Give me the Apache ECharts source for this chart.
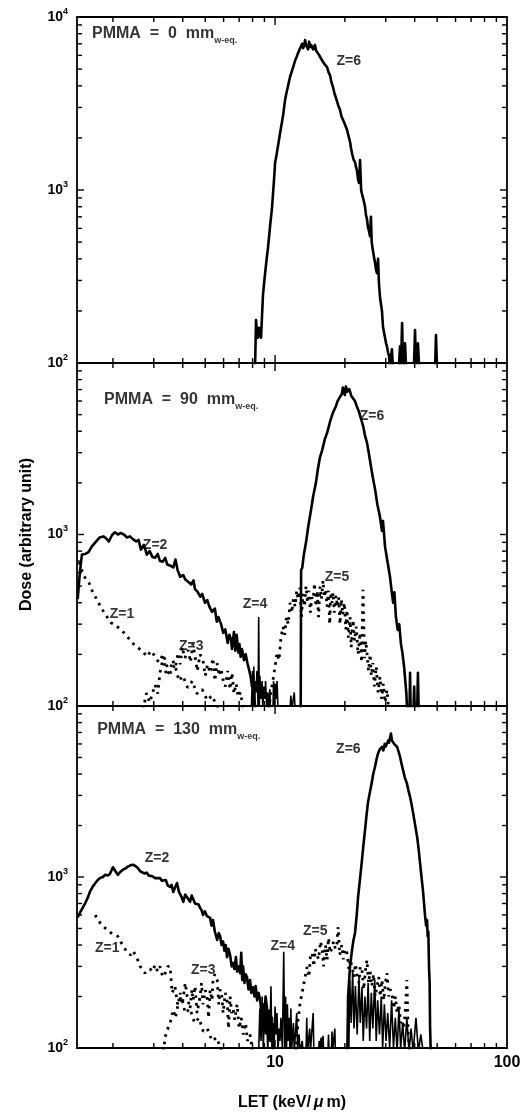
<!DOCTYPE html>
<html><head><meta charset="utf-8">
<script src="https://cdn.jsdelivr.net/npm/echarts@6/dist/echarts.min.js"></script>
<style>html,body{margin:0;padding:0;background:#fff}#c{width:529px;height:1113px}</style>
</head><body><div id="c"></div>
<script>
// ---------------- DATA ----------------
// LET (keV/um) , Dose (arbitrary unit)
const p0_Z6 = [[8.2,95],[8.28,177],[8.36,150],[8.44,140],[8.53,160],[8.62,150],[8.7,140],[8.79,138],[8.87,247],[8.97,290],[9.06,330],[9.2,400],[9.33,468],[9.52,620],[9.71,800],[9.9,1150],[10.0,1430],[10.15,1600],[10.3,1800],[10.51,2130],[10.67,2400],[10.83,2700],[11.04,3300],[11.2,3650],[11.38,4000],[11.6,4500],[11.78,4800],[11.95,5100],[12.2,5600],[12.4,5900],[12.57,6200],[12.82,6600],[13.08,7000],[13.2,6600],[13.34,6800],[13.47,7350],[13.6,6900],[13.74,6900],[13.88,6500],[14.02,7200],[14.16,6700],[14.3,6900],[14.44,7000],[14.59,6500],[14.73,6600],[14.87,6900],[15.02,6400],[15.17,6300],[15.4,6100],[15.63,6000],[15.85,5700],[16.1,5600],[16.4,5300],[16.76,5130],[17.0,4800],[17.26,4600],[17.5,4200],[17.78,3930],[18.05,3600],[18.32,3400],[18.7,3100],[19.06,2900],[19.35,2650],[19.63,2550],[20.0,2400],[20.43,2230],[20.75,2050],[21.05,1900],[21.25,1750],[21.47,1630],[21.8,1500],[22.12,1450],[22.35,1350],[22.55,1300],[22.8,1150],[23.0,1100],[23.25,1490],[23.5,1000],[23.7,950],[23.95,900],[24.2,850],[24.43,800],[24.65,720],[24.9,680],[25.15,610],[25.4,580],[25.67,540],[25.9,700],[26.1,500],[26.4,450],[26.7,410],[26.98,380],[27.2,350],[27.5,330],[27.8,400],[28.05,290],[28.35,240],[28.6,220],[28.9,200],[29.2,162],[29.5,150],[29.8,140],[30.1,130],[30.4,124],[30.7,115],[31.0,110],[31.31,95],[31.6,95],[31.9,120],[32.2,95],[34.2,95],[34.58,125],[34.9,95],[35.3,170],[35.6,95],[36.0,95],[36.34,130],[36.7,95],[39.7,95],[40.13,155],[40.5,95],[41.0,95],[41.3,130],[41.8,95],[49.0,95],[49.4,145],[49.9,95]];

const p90_Z6 = [[12.9,95],[12.95,620],[13.1,640],[13.3,760],[13.6,900],[13.9,1110],[14.3,1400],[14.6,1670],[15.0,2000],[15.3,2400],[15.6,2800],[16.0,3140],[16.4,3600],[16.8,3950],[17.3,4600],[17.8,5170],[18.3,5600],[18.6,5990],[19.0,6300],[19.4,6590],[19.6,7200],[19.8,6700],[20.0,6500],[20.2,7300],[20.5,6800],[20.9,7050],[21.3,6450],[21.7,6600],[22.1,6000],[22.5,5600],[23.0,5200],[23.5,4700],[24.0,4270],[24.4,3800],[24.9,3440],[25.4,2950],[25.9,2500],[26.4,2150],[27.0,1830],[27.6,1500],[28.3,1280],[28.9,1050],[29.2,1200],[29.8,850],[30.5,700],[31.3,567],[31.8,470],[32.3,400],[32.7,460],[33.2,330],[33.8,278],[34.3,300],[34.9,230],[35.4,205],[36.0,170],[36.4,142],[36.8,120],[37.1,95],[38.0,95],[38.2,156],[38.4,95],[39.5,95],[39.8,130],[40.0,95],[41.0,95],[41.3,156],[41.6,95]];

const p90_Z2 = [[1.41,420],[1.44,600],[1.47,764],[1.52,770],[1.57,790],[1.62,850],[1.68,900],[1.75,960],[1.82,975],[1.87,950],[1.92,910],[1.98,990],[2.04,1030],[2.10,1000],[2.16,1020],[2.23,1000],[2.30,960],[2.37,975],[2.44,940],[2.52,910],[2.58,930],[2.64,816],[2.72,870],[2.80,764],[2.88,800],[2.96,740],[3.04,733],[3.12,770],[3.19,700],[3.28,695],[3.36,730],[3.43,668],[3.52,660],[3.64,642],[3.72,714],[3.80,620],[3.90,567],[4.02,580],[4.10,546],[4.22,530],[4.35,511],[4.45,540],[4.52,480],[4.63,464],[4.76,434],[4.85,450],[4.99,400],[5.10,415],[5.21,380],[5.35,354],[5.50,370],[5.61,310],[5.70,330],[5.85,300],[5.98,267],[6.10,280],[6.25,233],[6.35,260],[6.46,245],[6.52,215],[6.65,270],[6.74,210],[6.83,260],[6.95,205],[7.02,230],[7.10,194],[7.20,215],[7.35,185],[7.47,200],[7.60,178],[7.75,160],[7.85,148],[7.95,130],[8.05,150],[8.15,110],[8.22,95]];

const p90_Z4 = [[7.9,95],[8.0,160],[8.05,100],[8.1,170],[8.15,95],[8.2,140],[8.3,120],[8.35,160],[8.45,100],[8.5,330],[8.55,100],[8.6,150],[8.7,110],[8.8,140],[8.85,95],[8.95,130],[9.05,110],[9.1,140],[9.2,100],[9.3,120],[9.35,95],[9.5,125],[9.55,95],[9.8,95],[9.85,140],[9.9,95],[10.0,135],[10.1,110],[10.2,140],[10.3,95],[11.6,95],[11.7,115],[11.8,95],[12.0,95],[12.1,120],[12.2,95]];

const p90_Z1 = [[1.43,690],[1.48,600],[1.53,546],[1.58,520],[1.62,476],[1.70,420],[1.78,374],[1.86,340],[1.96,306],[2.05,297],[2.15,280],[2.28,260],[2.40,236],[2.55,220],[2.70,207],[2.80,194],[2.92,210],[3.04,194],[3.15,180],[3.30,200],[3.45,165],[3.56,156],[3.70,175],[3.85,140],[4.00,150],[4.20,128],[4.40,140],[4.60,118],[4.85,125],[5.10,108],[5.35,115],[5.60,100],[5.80,95]];

const p90_Z3 = [[2.70,95],[2.79,119],[2.88,105],[3.04,133],[3.12,118],[3.19,156],[3.30,194],[3.40,150],[3.53,162],[3.62,185],[3.72,170],[3.82,204],[3.90,175],[3.98,221],[4.08,190],[4.22,212],[4.32,180],[4.42,230],[4.52,194],[4.62,160],[4.75,200],[4.89,186],[5.00,150],[5.12,175],[5.25,156],[5.40,190],[5.50,140],[5.62,178],[5.75,150],[5.85,165],[5.97,142],[6.10,130],[6.25,160],[6.40,125],[6.52,156],[6.65,118],[6.80,135],[6.93,113],[7.10,120],[7.25,100],[7.40,95]];

const p90_Z5 = [[9.4,95],[9.6,120],[9.8,142],[10.0,170],[10.2,204],[10.4,185],[10.6,250],[10.83,290],[11.0,260],[11.2,330],[11.4,300],[11.6,400],[11.8,350],[12.0,420],[12.2,380],[12.4,470],[12.57,420],[12.8,490],[13.0,330],[13.2,450],[13.4,380],[13.6,500],[13.8,400],[14.0,470],[14.2,350],[14.4,430],[14.6,417],[14.8,520],[15.0,380],[15.2,470],[15.4,330],[15.63,497],[15.85,420],[16.1,540],[16.3,430],[16.5,480],[16.76,380],[17.0,470],[17.2,300],[17.4,460],[17.6,400],[17.78,458],[18.0,350],[18.3,440],[18.6,380],[18.8,430],[19.06,300],[19.3,420],[19.6,340],[19.9,400],[20.2,280],[20.43,364],[20.7,250],[21.05,330],[21.3,220],[21.7,318],[22.0,240],[22.4,290],[22.8,200],[23.25,267],[23.6,180],[23.95,476],[24.3,190],[24.6,240],[24.9,204],[25.3,160],[25.7,200],[26.0,150],[26.4,178],[26.8,130],[27.3,170],[27.8,120],[28.35,148],[28.8,110],[29.3,135],[29.8,105],[30.4,124],[30.9,95]];

const p130_Z6 = [[20.5,95],[20.65,200],[21.05,300],[21.47,374],[21.8,430],[22.12,471],[22.5,600],[22.8,764],[23.2,950],[23.7,1260],[24.0,1500],[24.43,1880],[24.8,2300],[25.15,2720],[25.6,3100],[26.1,3540],[26.5,4000],[26.98,4410],[27.4,4900],[27.8,5280],[28.3,5600],[28.9,5760],[29.3,5500],[29.7,6000],[30.0,5800],[30.4,6070],[30.8,6300],[31.0,6100],[31.3,6500],[31.6,6900],[31.9,6300],[32.2,6400],[32.6,6000],[33.0,6100],[33.6,5760],[34.1,5400],[34.58,5050],[35.1,4600],[35.6,4240],[36.3,3800],[37.0,3540],[37.6,3200],[38.2,2940],[38.8,2650],[39.4,2360],[40.2,2000],[41.0,1710],[41.6,1450],[42.2,1200],[42.8,1000],[43.4,838],[43.9,700],[44.3,600],[44.8,520],[45.2,560],[45.5,450],[45.8,480],[46.1,300],[46.4,240],[46.6,133],[46.9,95]];

const p130_Z2 = [[1.41,580],[1.44,616],[1.48,660],[1.52,704],[1.56,760],[1.59,817],[1.63,870],[1.68,922],[1.72,960],[1.76,987],[1.81,1000],[1.85,1030],[1.90,1020],[1.94,1040],[2.0,1140],[2.05,1080],[2.1,1030],[2.15,1070],[2.2,1100],[2.26,1120],[2.32,1150],[2.38,1170],[2.44,1180],[2.50,1160],[2.56,1130],[2.62,1080],[2.67,1060],[2.73,1050],[2.8,1060],[2.85,1020],[2.89,1000],[2.96,1010],[3.04,985],[3.1,990],[3.19,987],[3.25,950],[3.3,935],[3.38,960],[3.45,890],[3.53,875],[3.58,900],[3.64,817],[3.72,880],[3.78,922],[3.85,820],[3.9,800],[3.96,760],[4.02,715],[4.1,790],[4.18,760],[4.25,740],[4.3,715],[4.37,780],[4.43,764],[4.52,700],[4.61,715],[4.68,690],[4.75,660],[4.82,640],[4.89,600],[4.98,630],[5.09,590],[5.17,600],[5.25,576],[5.32,520],[5.4,560],[5.5,480],[5.63,428],[5.72,470],[5.8,450],[5.88,400],[5.97,420],[6.05,370],[6.13,400],[6.21,340],[6.3,380],[6.4,350],[6.5,300],[6.59,314],[6.68,290],[6.78,340],[6.86,280],[6.95,300],[7.07,274],[7.15,360],[7.22,250],[7.28,300],[7.38,240],[7.47,270],[7.57,260],[7.68,220],[7.8,250],[7.9,210],[8.04,227],[8.15,200],[8.25,230],[8.37,190],[8.5,210],[8.62,191],[8.75,160],[8.88,180],[9.0,150],[9.1,200],[9.24,170],[9.35,130],[9.45,165],[9.55,110],[9.7,150],[9.8,95]];

const p130_Z4 = [[8.5,95],[8.6,170],[8.7,110],[8.8,200],[8.9,95],[9.0,180],[9.1,120],[9.2,160],[9.3,95],[9.4,150],[9.5,110],[9.6,230],[9.7,100],[9.8,140],[9.9,95],[10.0,175],[10.1,120],[10.2,160],[10.3,95],[10.4,130],[10.5,110],[10.6,150],[10.75,100],[10.9,365],[11.0,100],[11.1,200],[11.2,95],[11.3,180],[11.4,110],[11.5,150],[11.6,95],[11.7,170],[11.8,100],[12.0,140],[12.1,95],[12.4,160],[12.5,100],[12.7,120],[12.8,95],[13.1,110],[13.2,95],[13.6,95],[13.7,150],[13.8,95],[14.1,130],[14.2,95],[14.6,160],[14.7,95],[15.4,95],[15.5,110],[15.6,95],[15.8,115],[15.9,95],[16.1,118],[16.2,95],[16.9,95],[17.0,120],[17.1,95],[17.5,95],[17.6,125],[17.7,95],[18.0,95],[18.1,130],[18.2,95],[20.8,95],[21.0,250],[21.3,140],[21.6,280],[21.9,130],[22.2,230],[22.6,120],[23.0,260],[23.3,140],[23.7,227],[24.0,110],[24.4,200],[24.8,130],[25.2,240],[25.6,110],[26.0,210],[26.4,130],[26.9,250],[27.3,110],[27.7,190],[28.2,120],[28.7,200],[29.1,100],[29.6,180],[30.1,110],[30.6,160],[31.2,100],[31.8,190],[32.4,100],[33.0,150],[33.6,95],[34.2,170],[34.8,100],[35.5,140],[36.2,95],[37.0,150],[37.8,95],[38.6,130],[39.4,95],[40.5,150],[41.5,95],[42.5,120],[43.5,95]];

const p130_Z1 = [[1.68,600],[1.71,567],[1.78,530],[1.85,503],[1.94,476],[2.02,460],[2.1,450],[2.2,400],[2.3,364],[2.38,350],[2.44,370],[2.54,336],[2.62,300],[2.67,306],[2.75,274],[2.82,285],[2.89,290],[2.96,280],[3.04,306],[3.12,280],[3.19,300],[3.28,260],[3.36,274],[3.45,300],[3.53,300],[3.6,210],[3.7,230],[3.8,180],[3.95,200],[4.1,160],[4.3,170],[4.5,140],[4.7,150],[4.9,125],[5.1,130],[5.35,110],[5.6,115],[5.9,95]];

const p130_Z3 = [[3.3,95],[3.36,116],[3.45,130],[3.53,140],[3.64,167],[3.72,150],[3.9,210],[3.98,180],[4.1,240],[4.18,200],[4.3,170],[4.38,220],[4.43,190],[4.52,230],[4.61,160],[4.75,200],[4.82,240],[4.89,180],[5.0,218],[5.09,200],[5.17,150],[5.25,218],[5.35,190],[5.4,250],[5.5,270],[5.63,250],[5.72,180],[5.8,220],[5.9,200],[5.97,160],[6.1,210],[6.21,190],[6.3,130],[6.4,200],[6.5,160],[6.59,170],[6.7,146],[6.86,180],[7.0,130],[7.15,150],[7.3,120],[7.47,140],[7.6,110],[7.8,120],[8.0,95]];

const p130_Z5 = [[12.3,95],[12.57,146],[12.8,180],[13.08,210],[13.4,250],[13.74,298],[14.0,260],[14.2,340],[14.44,360],[14.7,300],[14.9,380],[15.17,374],[15.4,330],[15.7,420],[15.95,380],[16.2,300],[16.5,400],[16.76,327],[17.0,440],[17.3,360],[17.6,390],[17.9,420],[18.2,380],[18.5,411],[18.7,510],[19.0,350],[19.4,400],[19.7,330],[20.0,380],[20.43,360],[20.8,290],[21.1,330],[21.47,298],[21.9,260],[22.2,310],[22.55,270],[23.0,240],[23.3,300],[23.7,286],[24.1,220],[24.5,280],[24.9,327],[25.3,240],[25.7,280],[26.1,230],[26.6,270],[27.0,200],[27.5,227],[28.0,260],[28.4,200],[28.9,250],[29.4,190],[29.9,240],[30.4,274],[30.9,200],[31.4,220],[31.9,210],[32.5,170],[33.0,200],[33.6,160],[34.2,180],[34.8,140],[35.3,146],[35.9,130],[36.5,170],[37.0,250],[37.5,120],[38.2,95]];

// tick values
const xMinorTicks = [2,3,4,5,6,7,8,9,20,30,40,50,60,70,80,90];
const xMajorTicks = [10];
const xTickLabels = [10,100];
const yMinorTicks = [200,300,400,500,600,700,800,900,2000,3000,4000,5000,6000,7000,8000,9000];
const yMajorTicks = [1000];
const yTickLabelsTop = [100,1000,10000];
const yTickLabels = [100,1000];

const panelDepths = ['0','90','130'];

// ---------------- LAYOUT / STYLE ----------------
const FONT = '"Liberation Sans", Arial, Helvetica, sans-serif';
const gridBoxes = [{top:17,height:346},{top:363,height:343},{top:706,height:342}];
const LEFT = 77, WIDTH = 430;
const X_MIN = 1.4, X_MAX = 100, Y_MIN = 100, Y_MAX = 10000;
const TICK = {xMinor:5, xMajor:8, yMinor:5, yMajor:7, width:1.4};

// annotation anchors in data space [LET, dose] per panel
const titleAnchors = [[1.625,7980],[1.832,6080],[1.71,7250]];
const zLabelAnchors = [
  [['Z=6',[20.8,5570]]],
  [['Z=6',[26.2,4900]],['Z=2',[3.04,863]],['Z=1',[2.19,345]],['Z=3',[4.35,224]],['Z=4',[8.2,395]],['Z=5',[18.5,561]]],
  [['Z=6',[20.7,5610]],['Z=2',[3.10,1290]],['Z=1',[1.89,385]],['Z=3',[4.9,286]],['Z=4',[10.8,395]],['Z=5',[14.9,483]]]
];

const chart = echarts.init(document.getElementById('c'), null, {renderer:'canvas'});

const grid = gridBoxes.map(b => ({left:LEFT, width:WIDTH, top:b.top, height:b.height, containLabel:false}));
const xAxis = [], yAxis = [];
const lineCol = '#000';
const frameLine = {show:true, lineStyle:{color:lineCol, width:1.8}};
gridBoxes.forEach((b, g) => {
  const isBottom = g === 2;
  const xb = {type:'log', logBase:10, min:X_MIN, max:X_MAX, gridIndex:g, splitLine:{show:false}, axisTick:{show:false}, minorTick:{show:false}};
  xAxis.push(Object.assign({}, xb, {position:'bottom', axisLine:frameLine,
    axisLabel:{show:isBottom, customValues:xTickLabels, margin:7, color:'#000', fontFamily:FONT, fontWeight:'bold', fontSize:16,
      formatter: v => String(Math.round(v))},
    name: isBottom ? 'LET (keV/{i|μ}m)' : '', nameLocation:'middle', nameGap:47,
    nameTextStyle:{color:'#000', fontFamily:FONT, fontWeight:'bold', fontSize:16,
      rich:{i:{fontFamily:FONT, fontStyle:'italic', fontSize:16, padding:[0,3,0,3], color:'#000'}}}
  }));
  xAxis.push(Object.assign({}, xb, {position:'top', axisLine:frameLine, axisLabel:{show:false}}));

  const yb = {type:'log', logBase:10, min:Y_MIN, max:Y_MAX, gridIndex:g, splitLine:{show:false}, axisTick:{show:false}, minorTick:{show:false}};
  yAxis.push(Object.assign({}, yb, {position:'left', axisLine:frameLine,
    axisLabel:{show:true, customValues: g===0 ? yTickLabelsTop : yTickLabels, margin:9,
      formatter: v => '{b|10}{s|' + Math.round(Math.log10(v)) + '}',
      rich:{b:{fontFamily:FONT, fontWeight:'bold', fontSize:14, lineHeight:20, color:'#000'},
            s:{fontFamily:FONT, fontWeight:'bold', fontSize:9, lineHeight:9, verticalAlign:'top', color:'#000'}}},
    name: g===1 ? 'Dose (arbitrary unit)' : '', nameLocation:'middle', nameGap:42, nameRotate:90,
    nameTextStyle:{color:'#000', fontFamily:FONT, fontWeight:'bold', fontSize:16}
  }));
  yAxis.push(Object.assign({}, yb, {position:'right', axisLine:frameLine, axisLabel:{show:false}}));
});

function curve(g, data, kind) {
  const styles = {
    solid: {color:'#000', width:2.6, type:'solid', join:'round'},
    noise: {color:'#000', width:1.6, type:'solid', join:'bevel'},
    dots:  {color:'#000', width:2.8, type:[2.6,5], cap:'butt', join:'bevel'}
  };
  return {type:'line', xAxisIndex:2*g, yAxisIndex:2*g, data:data, symbol:'none', showSymbol:false,
    lineStyle:styles[kind], clip:true, silent:true, animation:false, z:2};
}

// inside tick marks on all four sides, placed through the axes' own scales
function tickSeries(g) {
  const items = xMinorTicks.map(v => ({value:[v, Y_MIN], k:'x', len:TICK.xMinor}))
    .concat(xMajorTicks.map(v => ({value:[v, Y_MIN], k:'x', len:TICK.xMajor})))
    .concat(yMinorTicks.map(v => ({value:[X_MIN, v], k:'y', len:TICK.yMinor})))
    .concat(yMajorTicks.map(v => ({value:[X_MIN, v], k:'y', len:TICK.yMajor})));
  return {type:'custom', xAxisIndex:2*g, yAxisIndex:2*g, silent:true, animation:false, clip:false, z:10,
    data: items.map(it => it.value),
    renderItem: (params, api) => {
      const it = items[params.dataIndex];
      const st = {stroke:'#000', lineWidth:TICK.width};
      if (it.k === 'x') {
        const v = api.value(0);
        const pb = api.coord([v, Y_MIN]), pt = api.coord([v, Y_MAX]);
        return {type:'group', children:[
          {type:'line', shape:{x1:pb[0], y1:pb[1], x2:pb[0], y2:pb[1]-it.len}, style:st},
          {type:'line', shape:{x1:pt[0], y1:pt[1], x2:pt[0], y2:pt[1]+it.len}, style:st}]};
      } else {
        const v = api.value(1);
        const pl = api.coord([X_MIN, v]), pr = api.coord([X_MAX, v]);
        return {type:'group', children:[
          {type:'line', shape:{x1:pl[0], y1:pl[1], x2:pl[0]+it.len, y2:pl[1]}, style:st},
          {type:'line', shape:{x1:pr[0], y1:pr[1], x2:pr[0]-it.len, y2:pr[1]}, style:st}]};
      }
    }
  };
}

const series = [
  curve(0, p0_Z6, 'solid'),
  curve(1, p90_Z2, 'solid'), curve(1, p90_Z4, 'noise'), curve(1, p90_Z6, 'solid'),
  curve(1, p90_Z1, 'dots'), curve(1, p90_Z3, 'dots'), curve(1, p90_Z5, 'dots'),
  curve(2, p130_Z2, 'solid'), curve(2, p130_Z4, 'noise'), curve(2, p130_Z6, 'solid'),
  curve(2, p130_Z1, 'dots'), curve(2, p130_Z3, 'dots'), curve(2, p130_Z5, 'dots')
];

gridBoxes.forEach((b, g) => {
  series.push(tickSeries(g));
  series.push({type:'scatter', xAxisIndex:2*g, yAxisIndex:2*g, symbolSize:0, silent:true, animation:false, z:5,
    data:[{value:titleAnchors[g], name:panelDepths[g]}],
    label:{show:true, position:'right', distance:0,
      formatter: p => '{m|PMMA  =  ' + p.name + '  mm}{w|w-eq.}',
      rich:{m:{fontFamily:FONT, fontWeight:'bold', fontSize:16, lineHeight:22, color:'#000'},
            w:{fontFamily:FONT, fontWeight:'bold', fontSize:9, lineHeight:9, verticalAlign:'bottom', color:'#000'}}}
  });
  series.push({type:'scatter', xAxisIndex:2*g, yAxisIndex:2*g, symbolSize:0, silent:true, animation:false, z:5,
    data: zLabelAnchors[g].map(a => ({value:a[1], name:a[0]})),
    label:{show:true, position:'inside', formatter: p => p.name, color:'#000',
      fontFamily:FONT, fontWeight:'bold', fontSize:14}
  });
});

chart.setOption({backgroundColor:'#fff', animation:false, grid, xAxis, yAxis, series});
</script></body></html>
